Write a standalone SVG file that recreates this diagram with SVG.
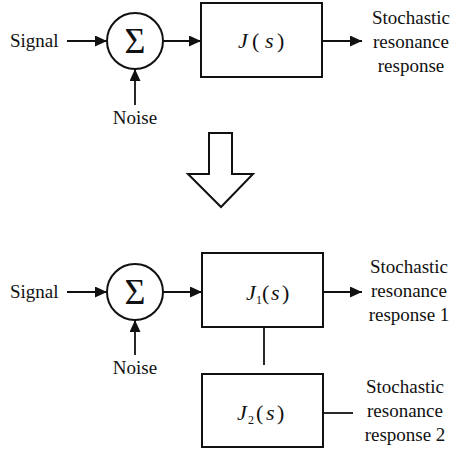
<svg xmlns="http://www.w3.org/2000/svg" width="456" height="451" viewBox="0 0 456 451" font-family="'Liberation Serif', 'DejaVu Serif', serif">
<style>
text{font-family:'Liberation Serif','DejaVu Serif',serif;font-size:19px;fill:#111}
.c{text-anchor:middle}
.sig{font-size:36px;text-anchor:middle}
.m{font-size:22px}
.i{font-style:italic}
.sub{font-size:12px}
.box{fill:#fff;stroke:#111;stroke-width:2}
.ln{stroke:#111;stroke-width:1.8;fill:none}
.ar{marker-end:url(#ah)}
</style>
<defs>
<marker id="ah" markerUnits="userSpaceOnUse" markerWidth="13" markerHeight="11" refX="12" refY="5.5" orient="auto">
<path d="M0,0 L12,5.5 L0,11 z" fill="#111"/>
</marker>
</defs>
<g id="connectors">
<line class="ln ar" x1="67" y1="41" x2="107" y2="41"/>
<line class="ln ar" x1="163" y1="41" x2="201" y2="41"/>
<line class="ln ar" x1="135" y1="105" x2="135" y2="69"/>
<line class="ln ar" x1="322" y1="41" x2="362" y2="41"/>
<line class="ln ar" x1="67" y1="292" x2="107" y2="292"/>
<line class="ln ar" x1="163" y1="292" x2="202" y2="292"/>
<line class="ln ar" x1="135" y1="355" x2="135" y2="320"/>
<line class="ln ar" x1="323" y1="292" x2="362" y2="292"/>
<line class="ln" x1="264" y1="327" x2="264" y2="365"/>
<line class="ln" x1="323" y1="413" x2="353" y2="413"/>
</g>
<g id="signal-top"><text x="10" y="47">Signal</text></g>
<g id="noise-top"><text class="c" x="135" y="124">Noise</text></g>
<g id="sum-top"><circle class="box" cx="135" cy="41" r="28"/><text class="sig" x="135" y="53">Σ</text></g>
<g id="J-top"><rect class="box" x="201" y="3" width="121" height="74"/>
<text class="m"><tspan class="i" x="238" y="48">J</tspan><tspan x="252" y="48">(</tspan><tspan class="i" x="265" y="48">s</tspan><tspan x="277" y="48">)</tspan></text></g>
<g id="out-top"><text class="c"><tspan x="411" y="24">Stochastic</tspan><tspan x="411" y="48">resonance</tspan><tspan x="411" y="72">response</tspan></text></g>
<g id="down-arrow"><polygon class="box" points="209,133 232,133 232,174 253,174 221,207 188,174 209,174"/></g>
<g id="signal-bot"><text x="10" y="298">Signal</text></g>
<g id="noise-bot"><text class="c" x="135" y="374">Noise</text></g>
<g id="sum-bot"><circle class="box" cx="135" cy="292" r="28"/><text class="sig" x="135" y="304">Σ</text></g>
<g id="J1"><rect class="box" x="202" y="253" width="121" height="74"/>
<text class="m"><tspan class="i" x="246" y="300">J</tspan><tspan class="sub" x="256" y="304">1</tspan><tspan x="262" y="300">(</tspan><tspan class="i" x="271" y="300">s</tspan><tspan x="282" y="300">)</tspan></text></g>
<g id="out1"><text class="c"><tspan x="409" y="273">Stochastic</tspan><tspan x="409" y="297">resonance</tspan><tspan x="409" y="321">response 1</tspan></text></g>
<g id="J2"><rect class="box" x="202" y="374" width="121" height="73"/>
<text class="m"><tspan class="i" x="237" y="420">J</tspan><tspan class="sub" x="248" y="424">2</tspan><tspan x="256" y="420">(</tspan><tspan class="i" x="266" y="420">s</tspan><tspan x="277" y="420">)</tspan></text></g>
<g id="out2"><text class="c"><tspan x="405" y="393">Stochastic</tspan><tspan x="405" y="417">resonance</tspan><tspan x="405" y="441">response 2</tspan></text></g>
</svg>
